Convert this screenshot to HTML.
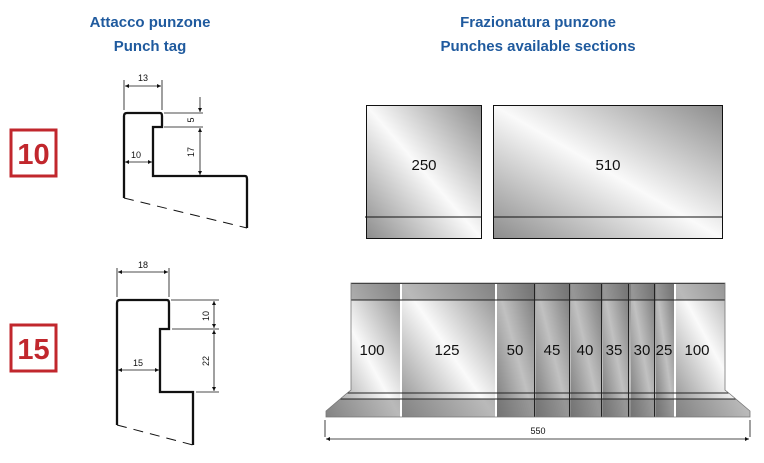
<!DOCTYPE html>
<html><head><meta charset="utf-8"><style>
body{margin:0;background:#fff;width:764px;height:463px;overflow:hidden}
svg{display:block}
.t{font-family:"Liberation Sans",sans-serif;font-weight:bold;fill:#1f5a9e;font-size:15px}
.n{font-family:"Liberation Sans",sans-serif;font-size:15px;fill:#111}
.d{font-family:"Liberation Sans",sans-serif;font-size:9px;fill:#111}
</style></head><body>
<svg width="764" height="463" viewBox="0 0 764 463">
<defs>
<linearGradient id="g" x1="1" y1="0" x2="0" y2="1">
<stop offset="0" stop-color="#8c8c8c"/><stop offset="0.5" stop-color="#fafafa"/><stop offset="1" stop-color="#8c8c8c"/>
</linearGradient>
<marker id="a" viewBox="0 0 6 6" refX="6" refY="3" markerWidth="5" markerHeight="5" orient="auto-start-reverse"><path d="M0,0L6,3L0,6z" fill="#111"/></marker>
<clipPath id="c"><path d="M351,283H725V390L730,394L750,411V417H326V411L346,394L351,390z"/></clipPath>
</defs>
<text class="t" x="150" y="27" text-anchor="middle">Attacco punzone</text>
<text class="t" x="150" y="51" text-anchor="middle">Punch tag</text>
<text class="t" x="538" y="27" text-anchor="middle">Frazionatura punzone</text>
<text class="t" x="538" y="51" text-anchor="middle">Punches available sections</text>

<rect x="11" y="130" width="45" height="46" fill="none" stroke="#c1272d" stroke-width="3"/>
<text x="33.5" y="164" text-anchor="middle" font-family="Liberation Sans,sans-serif" font-weight="bold" font-size="29" fill="#c1272d">10</text>
<rect x="11" y="325" width="45" height="46" fill="none" stroke="#c1272d" stroke-width="3"/>
<text x="33.5" y="359" text-anchor="middle" font-family="Liberation Sans,sans-serif" font-weight="bold" font-size="29" fill="#c1272d">15</text>

<!-- profile 10 -->
<path d="M124,198V116Q124,113 127,113H160Q162,113 162,116V127H153V176H245Q247,176 247,179V228" fill="none" stroke="#111" stroke-width="2.3"/>
<path d="M124,198L247,228" stroke="#111" stroke-width="1" stroke-dasharray="10,7"/>
<g stroke="#111" stroke-width="0.8" fill="none">
<path d="M124,110V80M162,110V80M164,113H203M164,127H203M205,176H203"/>
<path d="M125,86H161" marker-start="url(#a)" marker-end="url(#a)"/>
<path d="M200,97V112" marker-end="url(#a)"/>
<path d="M200,128V175" marker-start="url(#a)" marker-end="url(#a)"/>
<path d="M125,162H152" marker-start="url(#a)" marker-end="url(#a)"/>
</g>
<text class="d" x="143" y="81" text-anchor="middle">13</text>
<text class="d" x="136" y="158" text-anchor="middle">10</text>
<text class="d" transform="translate(194,120) rotate(-90)" text-anchor="middle">5</text>
<text class="d" transform="translate(194,152) rotate(-90)" text-anchor="middle">17</text>

<!-- profile 15 -->
<path d="M117,425V303Q117,300 120,300H167Q169,300 169,303V329H160V392H193V445" fill="none" stroke="#111" stroke-width="2.3"/>
<path d="M117,425L193,445" stroke="#111" stroke-width="1" stroke-dasharray="10,7"/>
<g stroke="#111" stroke-width="0.8" fill="none">
<path d="M117,297V268M169,297V268M171,300H219M172,329H219M196,392H219"/>
<path d="M118,272H168" marker-start="url(#a)" marker-end="url(#a)"/>
<path d="M214,301V328" marker-start="url(#a)" marker-end="url(#a)"/>
<path d="M214,330V391" marker-start="url(#a)" marker-end="url(#a)"/>
<path d="M118,370H159" marker-start="url(#a)" marker-end="url(#a)"/>
</g>
<text class="d" x="143" y="268" text-anchor="middle">18</text>
<text class="d" x="138" y="366" text-anchor="middle">15</text>
<text class="d" transform="translate(209,316) rotate(-90)" text-anchor="middle">10</text>
<text class="d" transform="translate(209,361) rotate(-90)" text-anchor="middle">22</text>

<!-- top row sections -->
<g stroke="#111" stroke-width="1">
<rect x="366.5" y="105.5" width="115" height="133" fill="url(#g)"/>
<rect x="493.5" y="105.5" width="229" height="133" fill="url(#g)"/>
<path d="M365,217H482M493,217H723"/>
</g>
<text class="n" x="424" y="170" text-anchor="middle">250</text>
<text class="n" x="608" y="170" text-anchor="middle">510</text>

<!-- bottom row sections -->
<g clip-path="url(#c)">
<rect x="320" y="280" width="440" height="140" fill="url(#g)"/>
<g fill="url(#g)">
<rect x="326" y="283" width="74" height="134"/>
<rect x="402" y="283" width="93" height="134"/>
<rect x="497" y="283" width="37" height="134"/>
<rect x="536" y="283" width="33" height="134"/>
<rect x="571" y="283" width="30" height="134"/>
<rect x="603" y="283" width="25" height="134"/>
<rect x="631" y="283" width="23" height="134"/>
<rect x="656" y="283" width="18" height="134"/>
<rect x="676" y="283" width="74" height="134"/>
</g>
<g fill="#7a7a7a" opacity="0.5">
<rect x="320" y="283" width="440" height="17"/>
<rect x="320" y="399" width="440" height="18"/>
</g>
<g fill="#555" opacity="0.35">
<rect x="497" y="283" width="177" height="134"/>
</g>
<g fill="#fff">
<rect x="400" y="280" width="2" height="140"/><rect x="495" y="280" width="2" height="140"/>
<rect x="674" y="280" width="2" height="140"/>
</g>
<g stroke="#222" stroke-width="1">
<path d="M534.5,283V417M569.5,283V417M601.5,283V417M628.5,283V417M654.5,283V417"/>
<path d="M320,283.5H760M320,300H760M320,393H760M320,399H760"/>
</g>
</g>
<path d="M351,283H725V390L730,394L750,411V417H326V411L346,394L351,390z" fill="none" stroke="#777" stroke-width="0.8"/>
<g>
<text x="372" y="355" text-anchor="middle" class="n">100</text>
<text x="447" y="355" text-anchor="middle" class="n">125</text>
<text x="515" y="355" text-anchor="middle" class="n">50</text>
<text x="552" y="355" text-anchor="middle" class="n">45</text>
<text x="585" y="355" text-anchor="middle" class="n">40</text>
<text x="614" y="355" text-anchor="middle" class="n">35</text>
<text x="642" y="355" text-anchor="middle" class="n">30</text>
<text x="664" y="355" text-anchor="middle" class="n">25</text>
<text x="697" y="355" text-anchor="middle" class="n">100</text>
</g>
<g stroke="#111" stroke-width="0.8">
<path d="M325,420V437M750,420V437"/>
<path d="M326,439H749" marker-start="url(#a)" marker-end="url(#a)"/>
</g>
<text class="d" x="538" y="434" text-anchor="middle" font-size="10">550</text>
</svg>
</body></html>
